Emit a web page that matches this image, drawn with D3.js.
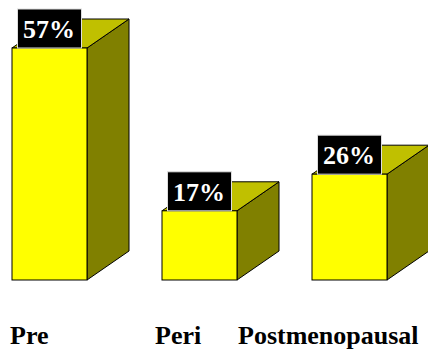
<!DOCTYPE html>
<html>
<head>
<meta charset="utf-8">
<script src="https://cdn.jsdelivr.net/npm/d3@7"></script>
<style>
  body { margin: 0; background: #fff; overflow: hidden; }
</style>
</head>
<body>
<script>
const categories = ["Pre", "Peri", "Postmenopausal"];
const values = [57, 17, 26];
const valueLabels = ["57%", "17%", "26%"];

const width = 428, height = 350;
const baseY = 280;
const depthX = 42, depthY = 29;
const serif = '"Liberation Serif", "Times New Roman", serif';

const svg = d3.select("body").append("svg")
    .attr("width", width)
    .attr("height", height);

const xScale = d3.scaleBand()
    .domain(categories)
    .range([12, 387])
    .paddingInner(0.5)
    .paddingOuter(0);

const yScale = d3.scaleLinear()
    .domain([0, 57])
    .range([baseY, 48]);

const data = categories.map((c, i) => ({label: c, value: values[i], text: valueLabels[i]}));
const bw = xScale.bandwidth();

const bars = svg.selectAll("g.bar").data(data).enter().append("g").attr("class", "bar");

// right side face
bars.append("path")
    .attr("d", d => {
        const x1 = xScale(d.label) + bw, y0 = yScale(d.value);
        return `M${x1},${y0}L${x1 + depthX},${y0 - depthY}L${x1 + depthX},${baseY - depthY}L${x1},${baseY}Z`;
    })
    .attr("fill", "#808000")
    .attr("stroke", "#000")
    .attr("stroke-width", 1);

// top face
bars.append("path")
    .attr("d", d => {
        const x0 = xScale(d.label), x1 = x0 + bw, y0 = yScale(d.value);
        return `M${x0},${y0}L${x0 + depthX},${y0 - depthY}L${x1 + depthX},${y0 - depthY}L${x1},${y0}Z`;
    })
    .attr("fill", "#c0c000")
    .attr("stroke", "#000")
    .attr("stroke-width", 1);

// front face
bars.append("rect")
    .attr("x", d => xScale(d.label))
    .attr("y", d => yScale(d.value))
    .attr("width", bw)
    .attr("height", d => baseY - yScale(d.value))
    .attr("fill", "#ffff00")
    .attr("stroke", "#000")
    .attr("stroke-width", 1);

// value label boxes
bars.append("rect")
    .attr("x", d => xScale(d.label) + 5.5)
    .attr("y", d => yScale(d.value) - 39)
    .attr("width", 64)
    .attr("height", 39)
    .attr("fill", "#000")
    .attr("stroke", "#ddd")
    .attr("stroke-width", 1);

bars.append("text")
    .attr("x", d => xScale(d.label) + 37)
    .attr("y", d => yScale(d.value) - 10)
    .attr("text-anchor", "middle")
    .attr("fill", "#fff")
    .style("font-family", serif)
    .style("font-weight", "bold")
    .style("font-size", "26px")
    .text(d => d.text);

// category labels
const labelX = {
    "Pre": d => xScale(d) - 2,
    "Peri": d => xScale(d) - 7,
    "Postmenopausal": d => xScale(d) - 74
};
svg.selectAll("text.cat").data(categories).enter().append("text")
    .attr("class", "cat")
    .attr("x", d => labelX[d](d))
    .attr("y", 344)
    .attr("fill", "#000")
    .style("font-family", serif)
    .style("font-weight", "bold")
    .style("font-size", "26px")
    .text(d => d);
</script>
</body>
</html>
